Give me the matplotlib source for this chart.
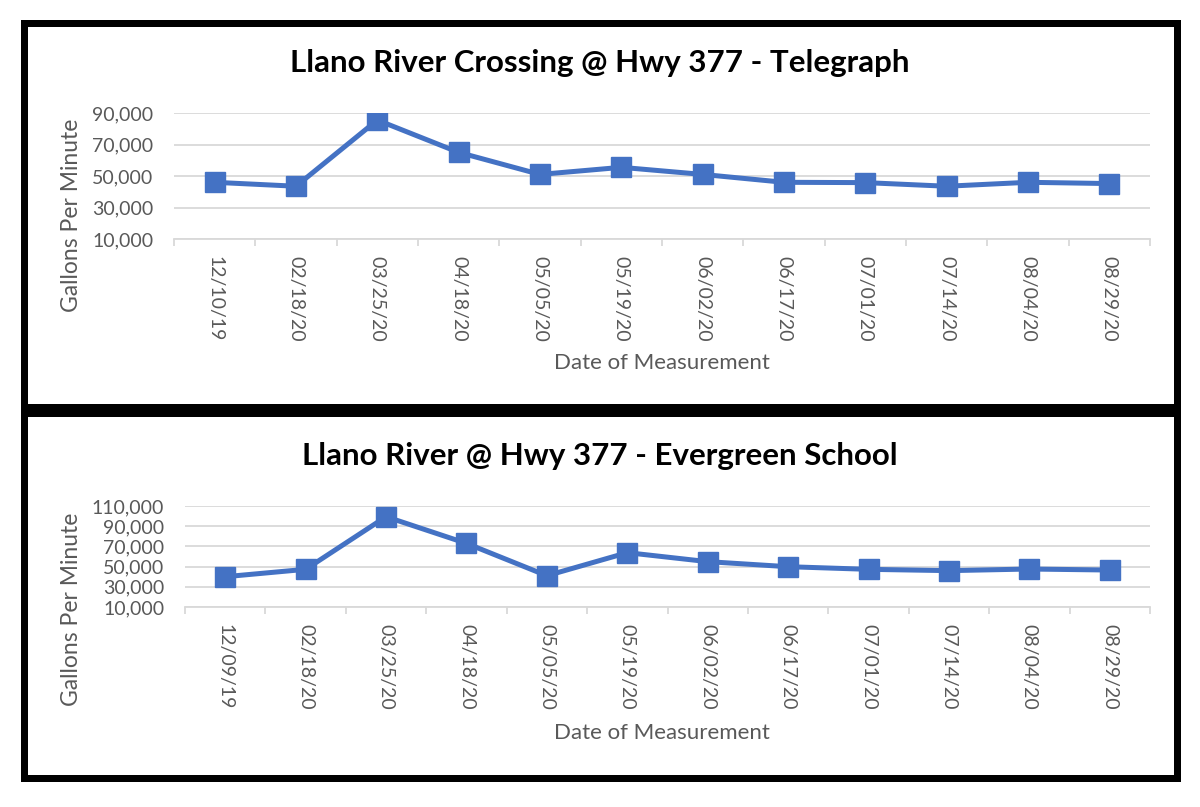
import matplotlib
matplotlib.use("Agg")
import matplotlib.pyplot as plt
from matplotlib.patches import Rectangle
from matplotlib.ticker import FuncFormatter, FixedLocator

plt.rcParams['font.family'] = ['Lato', 'DejaVu Sans']

# ---- data ----
title_top = "Llano River Crossing @ Hwy 377 - Telegraph"
dates_top = ["12/10/19", "02/18/20", "03/25/20", "04/18/20", "05/05/20", "05/19/20",
             "06/02/20", "06/17/20", "07/01/20", "07/14/20", "08/04/20", "08/29/20"]
gpm_top = [46000, 43500, 85500, 65000, 51000, 55500, 51000, 46000, 45800, 43500, 46000, 45200]
yticks_top = [10000, 30000, 50000, 70000, 90000]

title_bot = "Llano River @ Hwy 377 - Evergreen School"
dates_bot = ["12/09/19", "02/18/20", "03/25/20", "04/18/20", "05/05/20", "05/19/20",
             "06/02/20", "06/17/20", "07/01/20", "07/14/20", "08/04/20", "08/29/20"]
gpm_bot = [40000, 47300, 99400, 73000, 41000, 63800, 54900, 49900, 47300, 46000, 47600, 46600]
yticks_bot = [10000, 30000, 50000, 70000, 90000, 110000]

ylabel = "Gallons Per Minute"
xlabel = "Date of Measurement"

W, H = 1200, 807
fig = plt.figure(figsize=(W / 100, H / 100), dpi=100)
fig.patch.set_facecolor("white")

GRAY = "#595959"
GRID = "#d9d9d9"
BLUE = "#4472C4"


def fx(px):
    return px / W


def fy(py):
    return 1 - py / H


def make_panel(left, right, top, bottom, dates, vals, yticks, title, title_y, xlabel_y,
               ylabel_x, ylabel_y):
    ax = fig.add_axes([fx(left), fy(bottom), fx(right - left), fy(top) - fy(bottom)])
    x = list(range(len(dates)))
    ax.plot(x, vals, color=BLUE, lw=3.6, marker="s", markersize=15, zorder=3,
            solid_joinstyle="miter")
    ax.set_xlim(-0.5, len(dates) - 0.5)
    ax.set_ylim(yticks[0], yticks[-1])
    ax.yaxis.set_major_locator(FixedLocator(yticks))
    ax.yaxis.set_major_formatter(FuncFormatter(lambda v, p: f"{int(v):,}"))
    ax.grid(axis="y", color=GRID, lw=1.3, zorder=0)
    ax.set_xticks(x)
    ax.set_xticklabels(dates, rotation=270, color=GRAY, fontsize=14)
    ax.set_xticks([i - 0.5 for i in range(len(dates) + 1)], minor=True)
    ax.tick_params(axis="x", which="major", length=0, pad=12)
    ax.tick_params(axis="x", which="minor", length=5, color=GRID, width=1.3)
    ax.tick_params(axis="y", length=0, labelsize=14, labelcolor=GRAY, pad=15)
    for s in ["top", "right", "left"]:
        ax.spines[s].set_visible(False)
    ax.spines["bottom"].set_color(GRID)
    ax.spines["bottom"].set_linewidth(1.3)
    ax.set_facecolor("none")
    fig.text(0.5, fy(title_y), title, ha="center", va="center", fontsize=22.5,
             fontweight="bold", color="black")
    fig.text(fx(662), fy(xlabel_y), xlabel, ha="center", va="center",
             fontsize=16, color=GRAY)
    fig.text(fx(ylabel_x), fy(ylabel_y), ylabel, ha="center", va="center",
             rotation=90, fontsize=16.5, color=GRAY)
    return ax


ax1 = make_panel(174, 1150, 113, 239, dates_top, gpm_top, yticks_top, title_top, 63, 363, 71, 215)
ax2 = make_panel(185, 1150, 506, 607, dates_bot, gpm_bot, yticks_bot, title_bot, 456, 733, 71, 609)

# panel borders
lw_pt = 7 * 72 / 100
for (x0, y0, x1, y1) in [(23.5, 22.5, 1176.5, 406.5), (23.5, 413.5, 1176.5, 777.5)]:
    r = Rectangle((fx(x0), fy(y1)), fx(x1 - x0), fy(y0) - fy(y1), transform=fig.transFigure,
                  fill=False, edgecolor="black", lw=lw_pt, joinstyle="miter", zorder=10)
    fig.patches.append(r)

fig.savefig("out.png", dpi=100, facecolor="white")
